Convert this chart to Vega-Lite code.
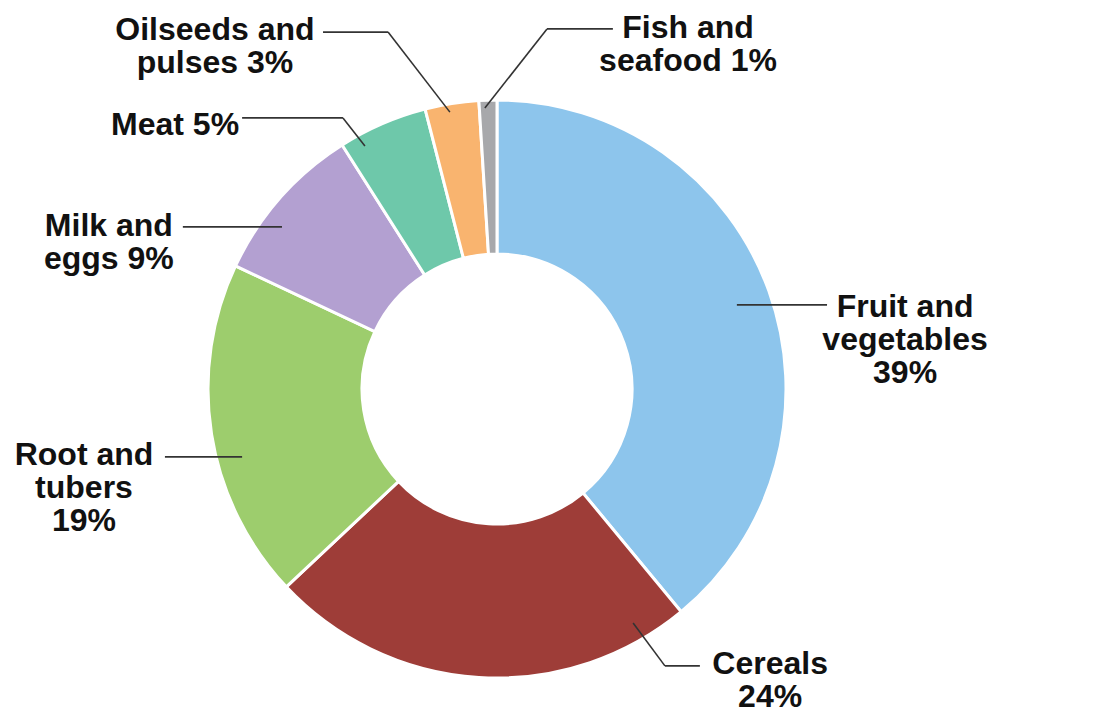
{
  "$schema": "https://vega.github.io/schema/vega-lite/v6.json",
  "width": 1097,
  "height": 715,
  "padding": 0,
  "autosize": "none",
  "background": "white",
  "config": {"view": {"stroke": null}, "axis": {"disable": true}},
  "data": {
    "values": [
      {"category": "Fruit and vegetables", "share": 39, "rank": 1, "label": "Fruit and\nvegetables\n39%"},
      {"category": "Cereals", "share": 24, "rank": 2, "label": "Cereals\n24%"},
      {"category": "Root and tubers", "share": 19, "rank": 3, "label": "Root and\ntubers\n19%"},
      {"category": "Milk and eggs", "share": 9, "rank": 4, "label": "Milk and\neggs 9%"},
      {"category": "Meat", "share": 5, "rank": 5, "label": "Meat 5%"},
      {"category": "Oilseeds and pulses", "share": 3, "rank": 6, "label": "Oilseeds and\npulses 3%"},
      {"category": "Fish and seafood", "share": 1, "rank": 7, "label": "Fish and\nseafood 1%"}
    ]
  },
  "layer": [
    {
      "mark": {"type": "arc", "innerRadius": 135, "outerRadius": 289, "stroke": "white", "strokeWidth": 3},
      "encoding": {
        "theta": {"field": "share", "type": "quantitative", "stack": true},
        "order": {"field": "rank", "type": "quantitative"},
        "color": {
          "field": "category", "type": "nominal", "legend": null,
          "scale": {
            "domain": ["Fruit and vegetables", "Cereals", "Root and tubers", "Milk and eggs", "Meat", "Oilseeds and pulses", "Fish and seafood"],
            "range": ["#8DC5EC", "#9E3D38", "#9DCD6D", "#B3A0D1", "#6EC8AA", "#F9B46F", "#A7A8AB"]
          }
        },
        "x": {"datum": 0, "type": "quantitative", "axis": null, "scale": {"domain": [-171.97, 207.61], "nice": false, "zero": false}},
        "y": {"datum": 0, "type": "quantitative", "axis": null, "scale": {"domain": [-112.8, 134.6], "nice": false, "zero": false}}
      }
    },
    {
      "transform": [{"filter": "datum.category === 'Fruit and vegetables'"}],
      "layer": [
        {"mark": {"type": "rule", "stroke": "#333333", "strokeWidth": 1.6},
         "encoding": {"x": {"datum": 83.0, "type": "quantitative", "axis": null, "scale": {"domain": [-171.97, 207.61], "nice": false, "zero": false}}, "y": {"datum": 29.1, "type": "quantitative", "axis": null, "scale": {"domain": [-112.8, 134.6], "nice": false, "zero": false}}, "x2": {"datum": 114.2}, "y2": {"datum": 29.1}}},
        {"mark": {"type": "text", "font": "Liberation Sans", "fontWeight": "bold", "fontSize": 32, "lineHeight": 33, "lineBreak": "\n", "align": "center", "baseline": "alphabetic", "color": "#111111"},
         "encoding": {"text": {"field": "label"}, "x": {"datum": 141.2, "type": "quantitative", "axis": null, "scale": {"domain": [-171.97, 207.61], "nice": false, "zero": false}}, "y": {"datum": 24.9, "type": "quantitative", "axis": null, "scale": {"domain": [-112.8, 134.6], "nice": false, "zero": false}}}}
      ]
    },
    {
      "transform": [{"filter": "datum.category === 'Cereals'"}],
      "layer": [
        {"mark": {"type": "rule", "stroke": "#333333", "strokeWidth": 1.6},
         "encoding": {"x": {"datum": 47.1, "type": "quantitative", "axis": null, "scale": {"domain": [-171.97, 207.61], "nice": false, "zero": false}}, "y": {"datum": -81.0, "type": "quantitative", "axis": null, "scale": {"domain": [-112.8, 134.6], "nice": false, "zero": false}}, "x2": {"datum": 58.1}, "y2": {"datum": -95.8}}},
        {"mark": {"type": "rule", "stroke": "#333333", "strokeWidth": 1.6},
         "encoding": {"x": {"datum": 58.1, "type": "quantitative", "axis": null, "scale": {"domain": [-171.97, 207.61], "nice": false, "zero": false}}, "y": {"datum": -95.8, "type": "quantitative", "axis": null, "scale": {"domain": [-112.8, 134.6], "nice": false, "zero": false}}, "x2": {"datum": 70.2}, "y2": {"datum": -95.8}}},
        {"mark": {"type": "text", "font": "Liberation Sans", "fontWeight": "bold", "fontSize": 32, "lineHeight": 33, "lineBreak": "\n", "align": "center", "baseline": "alphabetic", "color": "#111111"},
         "encoding": {"text": {"field": "label"}, "x": {"datum": 94.5, "type": "quantitative", "axis": null, "scale": {"domain": [-171.97, 207.61], "nice": false, "zero": false}}, "y": {"datum": -98.6, "type": "quantitative", "axis": null, "scale": {"domain": [-112.8, 134.6], "nice": false, "zero": false}}}}
      ]
    },
    {
      "transform": [{"filter": "datum.category === 'Root and tubers'"}],
      "layer": [
        {"mark": {"type": "rule", "stroke": "#333333", "strokeWidth": 1.6},
         "encoding": {"x": {"datum": -114.9, "type": "quantitative", "axis": null, "scale": {"domain": [-171.97, 207.61], "nice": false, "zero": false}}, "y": {"datum": -23.5, "type": "quantitative", "axis": null, "scale": {"domain": [-112.8, 134.6], "nice": false, "zero": false}}, "x2": {"datum": -88.2}, "y2": {"datum": -23.5}}},
        {"mark": {"type": "text", "font": "Liberation Sans", "fontWeight": "bold", "fontSize": 32, "lineHeight": 33, "lineBreak": "\n", "align": "center", "baseline": "alphabetic", "color": "#111111"},
         "encoding": {"text": {"field": "label"}, "x": {"datum": -142.9, "type": "quantitative", "axis": null, "scale": {"domain": [-171.97, 207.61], "nice": false, "zero": false}}, "y": {"datum": -26.3, "type": "quantitative", "axis": null, "scale": {"domain": [-112.8, 134.6], "nice": false, "zero": false}}}}
      ]
    },
    {
      "transform": [{"filter": "datum.category === 'Milk and eggs'"}],
      "layer": [
        {"mark": {"type": "rule", "stroke": "#333333", "strokeWidth": 1.6},
         "encoding": {"x": {"datum": -108.7, "type": "quantitative", "axis": null, "scale": {"domain": [-171.97, 207.61], "nice": false, "zero": false}}, "y": {"datum": 56.1, "type": "quantitative", "axis": null, "scale": {"domain": [-112.8, 134.6], "nice": false, "zero": false}}, "x2": {"datum": -74.4}, "y2": {"datum": 56.1}}},
        {"mark": {"type": "text", "font": "Liberation Sans", "fontWeight": "bold", "fontSize": 32, "lineHeight": 33, "lineBreak": "\n", "align": "center", "baseline": "alphabetic", "color": "#111111"},
         "encoding": {"text": {"field": "label"}, "x": {"datum": -134.3, "type": "quantitative", "axis": null, "scale": {"domain": [-171.97, 207.61], "nice": false, "zero": false}}, "y": {"datum": 52.9, "type": "quantitative", "axis": null, "scale": {"domain": [-112.8, 134.6], "nice": false, "zero": false}}}}
      ]
    },
    {
      "transform": [{"filter": "datum.category === 'Meat'"}],
      "layer": [
        {"mark": {"type": "rule", "stroke": "#333333", "strokeWidth": 1.6},
         "encoding": {"x": {"datum": -88.2, "type": "quantitative", "axis": null, "scale": {"domain": [-171.97, 207.61], "nice": false, "zero": false}}, "y": {"datum": 93.8, "type": "quantitative", "axis": null, "scale": {"domain": [-112.8, 134.6], "nice": false, "zero": false}}, "x2": {"datum": -53.3}, "y2": {"datum": 93.8}}},
        {"mark": {"type": "rule", "stroke": "#333333", "strokeWidth": 1.6},
         "encoding": {"x": {"datum": -53.3, "type": "quantitative", "axis": null, "scale": {"domain": [-171.97, 207.61], "nice": false, "zero": false}}, "y": {"datum": 93.8, "type": "quantitative", "axis": null, "scale": {"domain": [-112.8, 134.6], "nice": false, "zero": false}}, "x2": {"datum": -45.7}, "y2": {"datum": 84.1}}},
        {"mark": {"type": "text", "font": "Liberation Sans", "fontWeight": "bold", "fontSize": 32, "lineHeight": 33, "lineBreak": "\n", "align": "center", "baseline": "alphabetic", "color": "#111111"},
         "encoding": {"text": {"field": "label"}, "x": {"datum": -111.4, "type": "quantitative", "axis": null, "scale": {"domain": [-171.97, 207.61], "nice": false, "zero": false}}, "y": {"datum": 87.9, "type": "quantitative", "axis": null, "scale": {"domain": [-112.8, 134.6], "nice": false, "zero": false}}}}
      ]
    },
    {
      "transform": [{"filter": "datum.category === 'Oilseeds and pulses'"}],
      "layer": [
        {"mark": {"type": "rule", "stroke": "#333333", "strokeWidth": 1.6},
         "encoding": {"x": {"datum": -60.2, "type": "quantitative", "axis": null, "scale": {"domain": [-171.97, 207.61], "nice": false, "zero": false}}, "y": {"datum": 123.5, "type": "quantitative", "axis": null, "scale": {"domain": [-112.8, 134.6], "nice": false, "zero": false}}, "x2": {"datum": -37.7}, "y2": {"datum": 123.5}}},
        {"mark": {"type": "rule", "stroke": "#333333", "strokeWidth": 1.6},
         "encoding": {"x": {"datum": -37.7, "type": "quantitative", "axis": null, "scale": {"domain": [-171.97, 207.61], "nice": false, "zero": false}}, "y": {"datum": 123.5, "type": "quantitative", "axis": null, "scale": {"domain": [-112.8, 134.6], "nice": false, "zero": false}}, "x2": {"datum": -16.3}, "y2": {"datum": 95.8}}},
        {"mark": {"type": "text", "font": "Liberation Sans", "fontWeight": "bold", "fontSize": 32, "lineHeight": 33, "lineBreak": "\n", "align": "center", "baseline": "alphabetic", "color": "#111111"},
         "encoding": {"text": {"field": "label"}, "x": {"datum": -97.6, "type": "quantitative", "axis": null, "scale": {"domain": [-171.97, 207.61], "nice": false, "zero": false}}, "y": {"datum": 120.8, "type": "quantitative", "axis": null, "scale": {"domain": [-112.8, 134.6], "nice": false, "zero": false}}}}
      ]
    },
    {
      "transform": [{"filter": "datum.category === 'Fish and seafood'"}],
      "layer": [
        {"mark": {"type": "rule", "stroke": "#333333", "strokeWidth": 1.6},
         "encoding": {"x": {"datum": 40.1, "type": "quantitative", "axis": null, "scale": {"domain": [-171.97, 207.61], "nice": false, "zero": false}}, "y": {"datum": 124.6, "type": "quantitative", "axis": null, "scale": {"domain": [-112.8, 134.6], "nice": false, "zero": false}}, "x2": {"datum": 17.3}, "y2": {"datum": 124.6}}},
        {"mark": {"type": "rule", "stroke": "#333333", "strokeWidth": 1.6},
         "encoding": {"x": {"datum": 17.3, "type": "quantitative", "axis": null, "scale": {"domain": [-171.97, 207.61], "nice": false, "zero": false}}, "y": {"datum": 124.6, "type": "quantitative", "axis": null, "scale": {"domain": [-112.8, 134.6], "nice": false, "zero": false}}, "x2": {"datum": -4.2}, "y2": {"datum": 97.2}}},
        {"mark": {"type": "text", "font": "Liberation Sans", "fontWeight": "bold", "fontSize": 32, "lineHeight": 33, "lineBreak": "\n", "align": "center", "baseline": "alphabetic", "color": "#111111"},
         "encoding": {"text": {"field": "label"}, "x": {"datum": 66.1, "type": "quantitative", "axis": null, "scale": {"domain": [-171.97, 207.61], "nice": false, "zero": false}}, "y": {"datum": 121.5, "type": "quantitative", "axis": null, "scale": {"domain": [-112.8, 134.6], "nice": false, "zero": false}}}}
      ]
    }
  ]
}
